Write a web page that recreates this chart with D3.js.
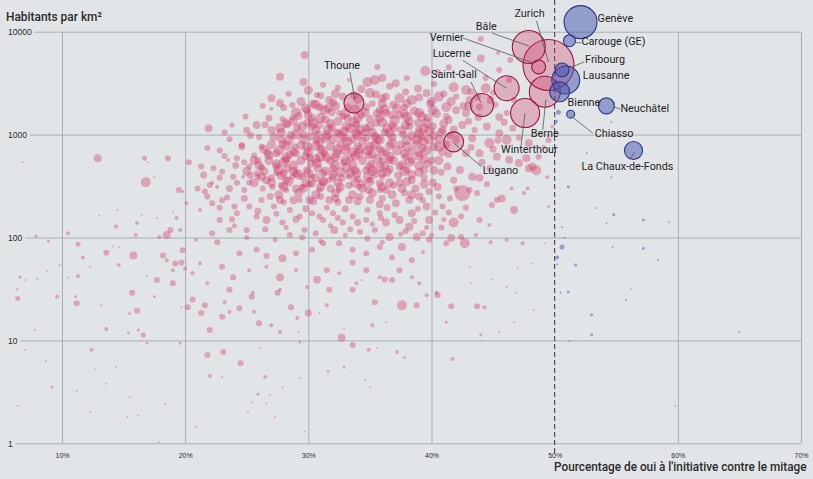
<!DOCTYPE html>
<html><head><meta charset="utf-8">
<script src="https://cdn.jsdelivr.net/npm/d3@7"></script>
<style>
html,body{margin:0;padding:0;background:#e1e5e8;}
svg{display:block;}
</style></head>
<body>
<svg id="chart" width="813" height="479"></svg>
<script>
// ---------- DATA ----------
const yTicks = [1, 10, 100, 1000, 10000];
const xTicks = [10, 20, 30, 40, 50, 60, 70];
const yTitle = "Habitants par km²";
const xTitle = "Pourcentage de oui à l'initiative contre le mitage";
const threshold = 50;

// labelled cities
const cityNames   = ["Zurich","Genève","Bâle","Berne","Winterthour","Lausanne","Lucerne","Saint-Gall","Lugano","Bienne","Thoune","La Chaux-de-Fonds","Neuchâtel","Fribourg","Vernier","Carouge (GE)","Chiasso"];
const cityYes     = [49.5, 52.1, 47.9, 49.2, 47.6, 50.9, 46.1, 44.1, 41.8, 50.4, 33.7, 56.4, 54.2, 50.6, 48.7, 51.2, 51.3];
const cityDensity = [4750, 12400, 7100, 2610, 1620, 3390, 2820, 1940, 850, 2610, 2030, 700, 1900, 4250, 4550, 8170, 1580];
const cityPop     = [416000, 174000, 174000, 154000, 135000, 125000, 100000, 85000, 64000, 64000, 64000, 52000, 41000, 31000, 31000, 23000, 10000];

// other communes: [yes %, inhabitants per km², population]
const communes = [
[29.7,5940,10000],[44.0,8500,5800],[44.0,5500,10000],[46.4,5300,5800],[45.4,6200,2600],[45.5,4250,5800],[46.3,3400,5800],[44.4,3550,5800],
[39.5,4150,16000],[40.5,4050,5800],[41.8,2880,16000],[42.8,2710,16000],[38.0,3550,5800],[37.1,3150,10000],[35.6,4550,5800],[36.0,3550,10000],
[34.8,3250,16000],[35.4,3390,16000],[36.0,2260,10000],[34.7,1850,10000],[34.3,1550,10000],[27.7,3650,10000],[29.6,3250,10000],[32.4,2850,5800],
[31.7,2170,10000],[27.0,2260,10000],[27.7,2030,10000],[28.7,1940,5800],[27.0,1780,2600],[25.8,1240,10000],[23.8,1240,4000],[21.9,1150,10000],
[21.8,740,5800],[20.3,540,5800],[21.3,490,5800],[21.5,405,7800],[31.3,1730,16000],[31.9,1650,10000],[33.7,1330,16000],[30.3,1450,10000],
[30.9,1240,10000],[29.9,1300,10000],[29.1,1160,10000],[27.7,1160,16000],[27.0,1110,10000],[28.6,990,10000],[26.0,950,5800],[26.2,760,5800],
[26.7,670,10000],[27.4,660,10000],[25.6,630,5800],[24.8,540,5800],[24.2,590,5800],[25.2,490,5800],[23.0,435,5800],[23.9,390,5800],
[22.2,340,2600],[27.4,490,10000],[28.2,570,10000],[29.0,660,10000],[29.9,760,16000],[30.7,890,10000],[31.5,990,16000],[32.3,1050,10000],
[33.1,1200,16000],[33.9,1030,16000],[34.7,1160,10000],[35.5,1300,10000],[36.3,1620,10000],[35.8,890,16000],[35.0,760,16000],[34.1,660,16000],
[33.1,760,10000],[32.3,660,16000],[31.5,600,16000],[30.7,530,16000],[29.9,450,10000],[29.0,420,10000],[28.2,360,10000],[26.6,360,10000],
[25.8,420,5800],[33.1,480,16000],[33.9,420,16000],[34.7,450,10000],[35.8,480,16000],[36.3,660,10000],[32.0,385,10000],[31.2,345,10000],
[30.3,335,10000],[34.4,335,10000],[35.8,335,10000],[33.2,1850,10000],[33.2,1450,10000],[32.5,1620,5800],
[34.3,2770,10000],[35.0,2540,16000],[36.3,2340,10000],[37.4,2260,16000],[38.4,2170,16000],[39.6,2540,10000],[40.6,2340,16000],[41.2,1850,16000],
[40.1,1730,16000],[39.0,1620,16000],[38.0,1480,16000],[36.8,1550,10000],[35.8,1730,10000],[42.0,1730,10000],[42.8,1620,10000],[43.1,2170,10000],
[42.0,2340,5800],[44.4,2820,16000],[44.8,2170,10000],[45.5,1480,10000],[46.1,1620,5800],[44.5,1200,10000],[45.5,1030,10000],[44.7,830,16000],
[46.1,890,16000],[47.1,930,5800],[47.9,830,10000],[48.7,610,5800],[48.2,490,10000],[47.1,530,10000],[46.3,570,10000],[45.3,610,10000],
[43.9,660,10000],[42.8,660,10000],[42.0,890,10000],[40.6,760,16000],[39.8,890,16000],[38.8,890,16000],[38.0,760,16000],[36.8,830,16000],
[36.2,1050,10000],[34.7,930,10000],[33.6,890,10000],[32.5,1030,10000],[30.3,1200,10000],[29.9,1730,10000],[30.9,1850,10000],[32.0,2050,10000],
[32.8,2340,10000],[38.2,1200,10000],[40.1,1200,10000],[40.9,1110,10000],[50.3,1650,4000],[50.1,1330,2600],
[42.5,270,41000],[46.7,185,10000],[45.7,240,10000],[47.7,590,10000],[48.5,450,16000],[47.9,470,10000],[41.8,140,16000],[42.7,88,16000],
[41.6,99,10000],[43.9,148,5800],[44.7,132,2600],[44.9,207,5800],[45.3,232,5800],[43.9,380,10000],[43.3,390,10000],[42.3,453,10000],
[41.3,490,10000],[43.1,290,5800],[43.7,270,5800],[40.6,250,5800],[40.9,200,5800],[41.4,175,5800],[42.8,195,5800],[42.4,160,5800],
[40.8,125,5800],[41.2,88,5800],[39.8,95,5800],[39.3,110,5800],[37.6,81,10000],[36.8,64,5800],[38.4,60,5800],[37.4,48,5800],
[36.2,39,5800],[38.4,41,2600],[39.3,72,2600],[42.4,101,5800],[43.6,106,2600],[44.8,90,2600],[46.1,95,2600],[47.4,88,2600],
[46.5,300,2600],[47.5,270,2600],[47.8,300,2600],[50.2,64,2600],[47.0,50,600],[48.2,56,600],[43.1,52,600],[44.9,39,600],
[40.4,29,2600],[46.1,33,600],
[36.6,567,10000],[37.4,490,10000],[38.4,567,10000],[39.0,660,10000],[39.4,453,10000],[38.4,362,10000],[37.4,340,10000],[36.3,290,10000],
[37.1,215,10000],[38.2,232,10000],[39.0,250,10000],[39.6,200,10000],[38.4,172,10000],[37.4,148,10000],[36.3,140,10000],[38.2,127,10000],
[36.6,101,10000],[38.8,101,10000],[39.8,148,10000],[40.1,340,10000],[40.5,310,10000],
[21.0,300,5800],[22.0,324,5800],[22.6,310,2600],[22.2,215,5800],[23.4,245,5800],[24.2,340,5800],[24.7,390,2600],[25.2,340,5800],
[25.9,390,5800],[26.3,300,5800],[27.1,310,5800],[27.4,420,5800],[28.2,290,5800],[28.7,390,5800],[29.5,310,5800],[30.3,390,5800],
[30.9,290,5800],[31.7,362,5800],[32.5,290,5800],[33.3,390,5800],[34.1,310,5800],[35.0,362,5800],[35.8,290,5800],[36.0,390,5800],
[26.6,148,10000],[27.4,170,5800],[28.5,185,5800],[29.3,160,5800],[30.3,172,5800],[31.2,148,5800],[32.0,172,5800],[32.8,140,5800],
[33.6,160,5800],[34.7,148,5800],[35.8,172,5800],[25.0,118,5800],[23.6,118,5800],[22.2,110,5800],[22.8,148,5800],[24.2,172,5800],
[25.2,200,5800],[21.2,185,2600],[20.1,215,2600],[19.8,75,5800],[20.9,95,2600],[22.6,90,5800],[24.4,70,5800],[25.8,76,5800],
[26.6,66,5800],[27.9,63,10000],[29.0,70,5800],[30.3,76,5800],[31.2,88,5800],[32.5,88,5800],[33.6,76,5800],[34.7,70,5800],
[35.8,81,5800],[21.2,56,2600],[23.0,52,5800],[23.9,41,5800],[25.2,48,2600],[26.6,52,2600],[27.7,41,10000],[29.0,48,2600],
[30.7,39,10000],[31.5,48,5800],[32.5,45,2600],[33.6,57,5800],[34.7,48,5800],[35.8,41,2600],[21.8,36,2600],[23.6,31,5800],
[25.5,29,2600],[27.7,31,2600],[29.9,33,2600],[31.7,31,5800],[33.9,36,2600],
[20.6,25,5800],[20.2,21,5800],[21.6,22,5800],[21.3,18.5,5800],[22.0,12.6,5800],[23.2,23.5,2600],[24.4,20.5,5800],[23.6,19,2600],
[23.0,17,5800],[25.4,26.5,5800],[25.6,19,2600],[26.0,14.7,5800],[27.0,14,2600],[27.7,12.1,2600],[27.5,29,5800],[28.6,21,5800],
[29.1,16.5,2600],[33.6,31,5800],[31.5,22,2600],[35.4,23.5,5800],[37.6,22,16000],[38.8,22,5800],[39.6,27.5,2600],[40.5,27.5,5800],
[41.6,21.5,5800],[43.7,21.5,5800],[44.3,21,2600],[32.7,10.6,10000],[33.6,9,5800],[34.9,8.1,2600],[37.2,7.7,2600],[37.8,6.8,1400],
[41.7,6.6,2600],[21.8,7.2,5800],[23.1,7.7,5800],[24.5,6.0,5800],[26.5,4.4,2600],[22.0,4.5,2600],[25.9,3.0,1400],[29.3,4.3,600],
[31.6,5.0,1400],[32.9,5.5,1400],[34.6,4.1,600],[35.0,3.5,600],[27.3,1.8,600],[20.9,1.45,600],[29.7,1.3,600],[25.4,2.5,600],
[23.0,4.4,600],[29.3,9.6,1400],[27.9,3.5,600],[41.2,15,1400],[44.0,11.3,1400],[45.5,12,600],[46.7,15,600],[46.9,29,600],
[48.3,19.8,600],[43.2,36,600],[36.3,15,600],[35.2,14,2600],[32.9,13,600],[30.9,18.5,600],[34.3,38.6,600],[36.8,38.6,5800],
[39.0,36,2600],
[6.8,540,600],[12.9,590,10000],[16.7,590,4000],[17.0,540,600],[18.6,590,5800],[16.8,345,16000],[17.5,390,600],[19.5,290,5800],
[19.8,280,1400],[14.5,185,600],[13.0,163,600],[14.4,128,2600],[16.1,138,2600],[16.5,166,600],[17.7,155,600],[19.0,175,600],
[19.3,155,2600],[19.6,118,2600],[18.8,118,5800],[18.5,106,10000],[17.9,101,2600],[16.0,106,2600],[10.5,110,2600],[7.9,103,1400],
[8.9,92,1400],[11.3,86,4000],[13.6,71,5800],[14.1,82,600],[14.6,81,600],[15.8,67,10000],[11.7,64,2600],[18.2,67,5800],
[18.5,60,2600],[19.2,56,5800],[19.7,57,5800],[20.0,50,2600],[20.6,45,2600],[19.0,48,2600],[17.7,38.6,5800],[19.0,36,5800],
[15.7,29,5800],[16.9,42,600],[14.6,54,2600],[12.3,52,600],[11.3,42,2600],[10.5,41,600],[9.8,54,600],[8.8,47,600],
[8.0,39.5,600],[6.6,41,1400],[7.0,38.6,600],[6.4,32,600],[9.6,26.5,2600],
[6.4,25.5,4000],[7.8,12.6,600],[8.7,6.3,600],[9.2,3.5,1400],[7.0,8.1,600],[6.3,31,600],[6.4,2.3,600],[11.2,23,5800],
[11.1,26.5,1400],[12.4,8.1,2600],[13.2,22,600],[13.6,12.9,2600],[14.4,5.5,600],[15.4,11.8,1400],[16.1,19.4,5800],[15.5,18.2,1400],
[16.2,12.6,1400],[16.6,11.3,4000],[16.9,9.4,1400],[15.3,1.8,600],[15.5,2.8,600],[12.3,2.0,600],[11.2,3.2,600],[12.7,5.2,600],
[13.6,3.8,600],[17.5,26.5,1400],[19.7,21,600],[19.6,9.4,1400],[26.1,8.4,600],[26.9,2.95,600],[29.2,12,600],[30.0,18.5,7800],
[35.6,8.4,600],[16.2,1.85,600],[18.4,2.4,600],[26.6,2.45,600],[25.1,2.0,600],[17.9,1.03,600],
[51.1,310,1400],[52.6,660,600],[54.6,385,600],[53.4,193,600],[54.8,166,1400],[54.2,138,600],[57.2,148,1400],[59.3,141,600],
[50.6,126,600],[50.8,99,600],[50.6,81,4000],[50.2,55,600],[51.7,54,1400],[54.7,81,600],[57.2,78,1400],[58.4,60.5,600],
[51.1,29.5,1400],[50.5,29,600],[53.0,17.7,1400],[53.0,11.3,1400],[51.2,9.9,600],[55.8,24.7,600],[56.2,31.5,400],[65.0,12,500],
[59.8,2.3,400],[54.6,1330,600],
[49.4,385,2600],[49.5,200,1400],[49.2,88,600],[49.8,1200,2600],[49.1,760,2600],[49.5,887,5800],
[27.9,1420,5800],[28.7,1450,5800],[30.7,2430,5800],[33.3,3390,2600],[33.7,2430,10000],[41.4,4500,5800],[42.7,3800,2600],
[30.1,232,10000],[31.7,232,10000],[33.3,232,10000],[35.0,232,10000],[29.7,118,5800],[32.1,118,10000],[34.2,114,5800],[35.4,118,5800],
[28.5,106,5800],[27.7,232,10000],[26.2,232,5800],[29.3,232,5800],[41.4,1390,10000],[42.5,1240,10000],[43.5,1110,5800],[39.0,1110,10000],
[37.0,1160,10000],[24.6,790,5800],[23.5,567,2600],[46.7,2170,5800],
[31.2,3050,5800],[36.6,2950,7800],[38.9,2800,10000],[40.2,3100,5800],[43.2,2600,7800],
[28.4,2500,5800],[31.0,2380,7800],[35.5,2450,10000],[37.9,2600,7800],[39.0,2300,10000],[41.0,2500,7800],[43.7,2350,10000],[45.0,2550,5800],
[26.3,1900,5800],[28.0,1820,7800],[30.4,2000,10000],[35.2,2000,7800],[36.9,1950,10000],[37.8,1830,7800],[39.9,2000,10000],[42.6,1900,10000],[43.9,1850,7800],[45.2,1950,5800],
[24.9,1500,5800],[26.8,1450,7800],[29.2,1520,10000],[31.4,1400,10000],[32.8,1500,7800],[35.0,1420,10000],[37.4,1550,10000],[39.7,1450,10000],[41.2,1500,7800],[43.8,1480,10000],[45.9,1320,7800],
[23.2,1050,5800],[25.0,1100,7800],[26.5,1250,7800],[28.3,1260,10000],[31.9,1180,10000],[33.9,1250,10000],[36.8,1230,10000],[38.9,1300,10000],[41.8,1120,10000],[43.0,1350,7800],[46.6,1150,7800],
[23.6,900,5800],[25.3,980,7800],[27.8,900,10000],[29.6,1000,10000],[30.8,1020,7800],[33.0,920,10000],[34.6,1050,10000],[37.7,1000,10000],[39.2,950,10000],[41.5,980,7800],[43.3,920,10000],[45.4,880,7800],
[22.8,700,5800],[24.6,760,7800],[27.9,800,10000],[28.9,760,7800],[31.0,730,10000],[32.6,810,10000],[34.0,770,10000],[35.8,720,10000],[37.5,800,10000],[39.3,740,10000],[41.2,800,10000],[43.2,750,7800],[45.0,720,7800],
[23.2,620,5800],[25.9,560,7800],[28.5,640,10000],[30.1,600,10000],[31.3,650,7800],[33.4,590,10000],[34.9,630,10000],[36.0,560,7800],[37.9,610,10000],[40.0,560,10000],[41.4,640,7800],[44.1,540,7800],
[22.3,470,5800],[24.1,500,7800],[26.2,480,7800],[28.3,470,10000],[30.2,520,10000],[32.0,470,10000],[32.9,540,7800],[35.1,520,10000],[36.6,460,10000],[38.0,450,7800],[39.7,520,10000],[40.8,430,7800],[44.7,470,5800],
[22.8,380,5800],[25.3,400,7800],[27.0,380,7800],[28.0,420,10000],[29.5,390,7800],[31.2,420,10000],[32.7,380,10000],[34.0,370,7800],[35.4,410,10000],[37.3,400,10000],[39.4,380,7800],[41.8,360,7800],[44.5,330,5800],
[21.6,280,5800],[23.6,300,7800],[24.8,290,5800],[27.8,320,7800],[29.0,300,10000],[30.1,330,7800],[31.8,300,10000],[33.3,320,7800],[34.9,290,10000],[36.9,320,7800],[38.7,300,10000],[39.8,280,7800],[42.0,300,5800],
[21.8,250,5800],[23.0,230,5800],[24.8,240,7800],[26.9,250,7800],[28.0,220,5800],[31.0,250,7800],[32.4,220,7800],[34.2,250,7800],[36.0,240,7800],[37.8,270,7800],[39.3,230,5800],[41.5,240,5800],
[22.8,195,5800],[24.0,200,5800],[25.9,180,7800],[27.2,200,5800],[29.8,190,7800],[31.5,195,5800],[33.0,190,7800],[34.8,185,5800],[36.4,195,7800],[38.9,190,5800],[40.3,175,5800],
[23.8,150,5800],[25.8,160,5800],[27.9,140,5800],[29.0,150,7800],[30.9,160,5800],[32.4,155,5800],[34.0,140,7800],[35.9,155,5800],[37.0,165,5800],[38.6,145,5800],[41.0,150,4000],
[24.0,130,4000],[26.5,120,5800],[28.2,125,4000],[30.6,110,5800],[31.8,130,4000],[33.4,120,5800],[35.2,135,4000],[37.9,115,5800],[39.6,125,4000],
[25.0,100,4000],[27.3,95,4000],[29.5,100,5800],[31.0,92,4000],[33.0,105,4000],[34.8,98,5800],[36.0,90,4000],[37.5,108,4000],[40.0,105,4000],
[29.4,2100,13000],[30.6,1950,16000],[32.2,1900,13000],[33.8,1750,16000],[35.6,1600,13000],[37.2,1800,16000],[38.6,1700,13000],[40.4,1600,13000],
[29.0,1650,16000],[30.0,1550,13000],[31.0,1450,16000],[32.4,1350,13000],[34.0,1450,16000],[35.8,1450,13000],[37.0,1380,16000],[38.2,1350,13000],[39.6,1300,16000],[41.0,1280,13000],
[28.2,1300,13000],[29.5,1200,16000],[30.6,1100,13000],[31.6,1120,16000],[32.9,1080,13000],[34.2,1120,16000],[35.2,1050,13000],[36.4,1150,16000],[37.6,1100,13000],[39.0,1020,16000],[40.2,980,13000],
[27.2,950,13000],[28.4,880,16000],[29.6,900,13000],[30.9,850,16000],[32.0,900,13000],[33.2,850,16000],[34.4,860,13000],[35.6,900,16000],[36.8,950,13000],[38.0,880,16000],[39.4,860,13000],[40.6,900,13000],
[26.4,720,13000],[27.6,700,16000],[28.8,680,13000],[30.0,680,16000],[31.2,700,13000],[32.4,720,16000],[33.6,680,13000],[34.8,700,16000],[36.0,680,13000],[37.2,700,16000],[38.4,680,13000],[39.6,700,16000],[40.9,680,13000],
[25.6,560,13000],[26.8,560,13000],[28.0,540,16000],[29.4,560,13000],[30.6,580,16000],[31.8,560,13000],[33.0,560,16000],[34.4,560,13000],[35.6,580,16000],[36.9,560,13000],[38.2,540,16000],[39.4,580,13000],[40.6,560,13000],
[25.0,440,13000],[26.4,440,13000],[27.6,450,16000],[28.8,440,13000],[30.0,420,16000],[31.4,440,13000],[32.6,430,16000],[33.8,450,13000],[35.2,440,16000],[36.4,430,13000],[37.8,440,16000],[39.0,430,13000],[40.2,450,13000],
[25.6,340,13000],[27.0,340,13000],[28.4,350,16000],[29.8,340,13000],[31.2,350,16000],[32.4,340,13000],[33.8,340,16000],[35.0,350,13000],[36.6,340,13000],[38.0,350,13000],[39.4,330,13000],
[27.6,260,13000],[29.2,270,13000],[30.6,260,13000],[32.2,270,13000],[33.6,260,13000],[35.2,270,13000],[36.8,260,13000],[38.4,260,13000],
[30.0,2700,13000],[32.2,2500,13000],[34.0,2200,13000],[36.0,2000,13000],[38.0,2000,13000],[40.0,2100,13000],[41.6,2100,13000],[43.0,1900,13000],
[29.8,1800,16000],[31.6,1800,13000],[33.0,1600,16000],[34.6,1650,13000],[36.2,1750,16000],[37.8,1600,13000],[39.2,1500,16000],
[28.8,1350,13000],[30.4,1300,16000],[31.8,1280,13000],[33.4,1150,16000],[35.0,1200,13000],[36.0,1320,16000],[37.9,1240,13000],[39.4,1150,16000],[40.8,1050,13000],
[27.8,1050,13000],[29.0,1000,16000],[30.2,960,13000],[31.4,930,16000],[32.7,970,13000],[34.0,980,16000],[35.4,960,13000],[36.6,1030,16000],[38.4,980,13000],[39.8,1080,16000],
[27.0,800,13000],[28.2,780,16000],[29.4,790,13000],[30.6,780,16000],[31.8,770,13000],[33.0,700,16000],[34.2,720,13000],[35.4,790,16000],[36.6,780,13000],[38.8,800,16000],[40.2,760,13000],
[26.8,630,13000],[28.2,600,16000],[29.8,620,13000],[31.0,610,16000],[32.2,600,13000],[33.8,620,16000],[35.2,640,13000],[36.6,610,16000],[37.8,650,13000],[39.0,620,13000],
[26.0,500,13000],[27.4,520,13000],[28.8,500,16000],[30.8,470,13000],[32.2,500,16000],[33.6,510,13000],[35.0,480,16000],[36.2,500,13000],[37.6,510,13000],[39.0,500,16000],
[26.2,390,13000],[27.8,400,13000],[29.2,410,16000],[30.6,380,13000],[32.0,410,13000],[33.4,420,16000],[34.8,390,13000],[36.0,420,13000],[38.4,410,13000],
[28.0,310,13000],[29.6,300,13000],[31.0,310,13000],[32.6,310,13000],[34.4,300,13000],[36.0,310,13000],[37.6,300,13000],
[28.8,230,10000],[30.4,225,10000],[32.2,240,10000],[34.0,225,10000],[35.8,210,10000]
];

// label layout (pixel offsets from the circle centre): text start, leader line
const labelLayout = {
  "Zurich":            {tx:-34, ty:-48, l:[-12,-44, 0,-3]},
  "Bâle":              {tx:-53, ty:-17, l:[-37,-14, 0,-1]},
  "Vernier":           {tx:-109,ty:-26, l:[-76,-29,-6,-4]},
  "Lucerne":           {tx:-74, ty:-31, l:[-44,-28, 0, 0]},
  "Saint-Gall":        {tx:-51, ty:-27, l:[-11,-23,-1,-2]},
  "Thoune":            {tx:-30, ty:-34, l:[-4,-31, 1,-3]},
  "Lugano":            {tx:29,  ty:32,  l:[28,25, 0, 1]},
  "Winterthour":       {tx:-24, ty:40,  l:[-4,32, 0, 0]},
  "Berne":             {tx:-14, ty:45,  l:[-2,38, 1, 8]},
  "Genève":            {tx:17,  ty:0,   l:null},
  "Carouge (GE)":      {tx:12,  ty:4,   l:[6,2,12,2]},
  "Fribourg":          {tx:23,  ty:-7,  l:[22,-8,10,-3]},
  "Lausanne":          {tx:17,  ty:-1,  l:null},
  "Bienne":            {tx:8,   ty:14,  l:null},
  "Neuchâtel":         {tx:14,  ty:6,   l:[7,1,14,3]},
  "Chiasso":           {tx:24,  ty:23,  l:[2,3,22,19]},
  "La Chaux-de-Fonds": {tx:-52, ty:19,  l:[1,2,-4,9]}
};

// ---------- CHART ----------
const svg = d3.select("#chart");
const W = 813, H = 479;
const x = d3.scaleLinear().domain([10, 70]).range([62, 801]);
const y = d3.scaleLog().domain([1, 10000]).range([443.3, 31.7]);
const r = d3.scaleSqrt().domain([0, 400000]).range([0, 25]);

svg.append("rect").attr("width", W).attr("height", H).attr("fill", "#e1e5e8");

const gridCol = "#a9aeb3";
const textCol = "#2b2b2b";

// X axis with vertical grid lines
const xAxis = d3.axisBottom(x).tickValues(xTicks).tickFormat(d => d + "%")
  .tickSize(-(443.3 - 31.7)).tickPadding(10);
const gx = svg.append("g").attr("transform", "translate(0,443.3)").call(xAxis);
gx.select(".domain").remove();
gx.selectAll(".tick line").attr("stroke", d => d === threshold ? "none" : gridCol).attr("stroke-width", 1);
gx.selectAll(".tick text").attr("fill", textCol).attr("font-family", "Liberation Sans, Arial, sans-serif")
  .attr("font-size", 7).attr("dy", "0.71em");

// Y axis with horizontal grid lines starting after each label
const yAxis = d3.axisLeft(y).tickValues(yTicks).tickFormat(d3.format("d")).tickSize(0).tickPadding(0);
const gy = svg.append("g").call(yAxis);
gy.select(".domain").remove();
gy.selectAll(".tick text").attr("fill", textCol).attr("font-family", "Liberation Sans, Arial, sans-serif")
  .attr("font-size", 8.5).attr("text-anchor", "start").attr("x", 8).attr("dy", "0.32em");
gy.selectAll(".tick").each(function() {
  const t = d3.select(this).select("text").node();
  const end = 8 + t.getComputedTextLength() + 3;
  d3.select(this).insert("line", "text").attr("x1", end).attr("x2", 801)
    .attr("stroke", gridCol).attr("stroke-width", 1);
});

// threshold dashed line
svg.append("line").attr("x1", x(threshold)).attr("x2", x(threshold)).attr("y1", 0).attr("y2", 453)
  .attr("stroke", "#333").attr("stroke-width", 1).attr("stroke-dasharray", "5,3");

// communes
const redFill = "rgb(210,52,96)", blueFill = "rgb(70,85,175)";
const sorted = communes.slice().sort((a, b) => b[2] - a[2]);
svg.append("g").selectAll("circle").data(sorted).join("circle")
  .attr("cx", d => x(d[0])).attr("cy", d => y(d[1])).attr("r", d => r(d[2]))
  .attr("fill", d => d[0] > threshold ? blueFill : redFill)
  .attr("fill-opacity", d => d[0] > threshold ? 0.5 : 0.37);

// cities
const cities = cityNames.map((n, i) => ({name: n, yes: cityYes[i], dens: cityDensity[i], pop: cityPop[i]}))
  .sort((a, b) => b.pop - a.pop);
const gc = svg.append("g");
gc.selectAll("circle").data(cities).join("circle")
  .attr("cx", d => x(d.yes)).attr("cy", d => y(d.dens)).attr("r", d => r(d.pop))
  .attr("fill", d => d.yes > threshold ? blueFill : redFill)
  .attr("fill-opacity", d => d.yes > threshold ? 0.5 : 0.3)
  .attr("stroke", d => d.yes > threshold ? "#2c3585" : "#9c1640")
  .attr("stroke-width", 1.1);

// leader lines
const gl = svg.append("g");
cities.forEach(d => {
  const L = labelLayout[d.name];
  if (!L || !L.l) return;
  const cx = x(d.yes), cy = y(d.dens);
  gl.append("line").attr("x1", cx + L.l[0]).attr("y1", cy + L.l[1])
    .attr("x2", cx + L.l[2]).attr("y2", cy + L.l[3])
    .attr("stroke", "#555").attr("stroke-width", 0.8);
});
// labels
const gt = svg.append("g");
cities.forEach(d => {
  const L = labelLayout[d.name];
  const cx = x(d.yes), cy = y(d.dens);
  gt.append("text").attr("x", cx + L.tx).attr("y", cy + L.ty)
    .attr("font-family", "Roboto, 'Open Sans', sans-serif").attr("font-size", 10.8)
    .attr("fill", "#1f1f1f").text(d.name);
});

// titles, squeezed horizontally to the reference widths
function fitText(x0, y0, size, width, str) {
  const t = svg.append("text").attr("font-family", "'Liberation Sans Narrow', Roboto, sans-serif")
    .attr("font-weight", 500).attr("font-size", size).attr("fill", textCol).text(str);
  const w = t.node().getComputedTextLength();
  const k = width / w;
  t.attr("transform", `translate(${x0},${y0}) scale(${k},1)`);
}
fitText(6, 21, 13, 96, yTitle);
fitText(554, 471, 12.5, 253, xTitle);
</script>
</body></html>
